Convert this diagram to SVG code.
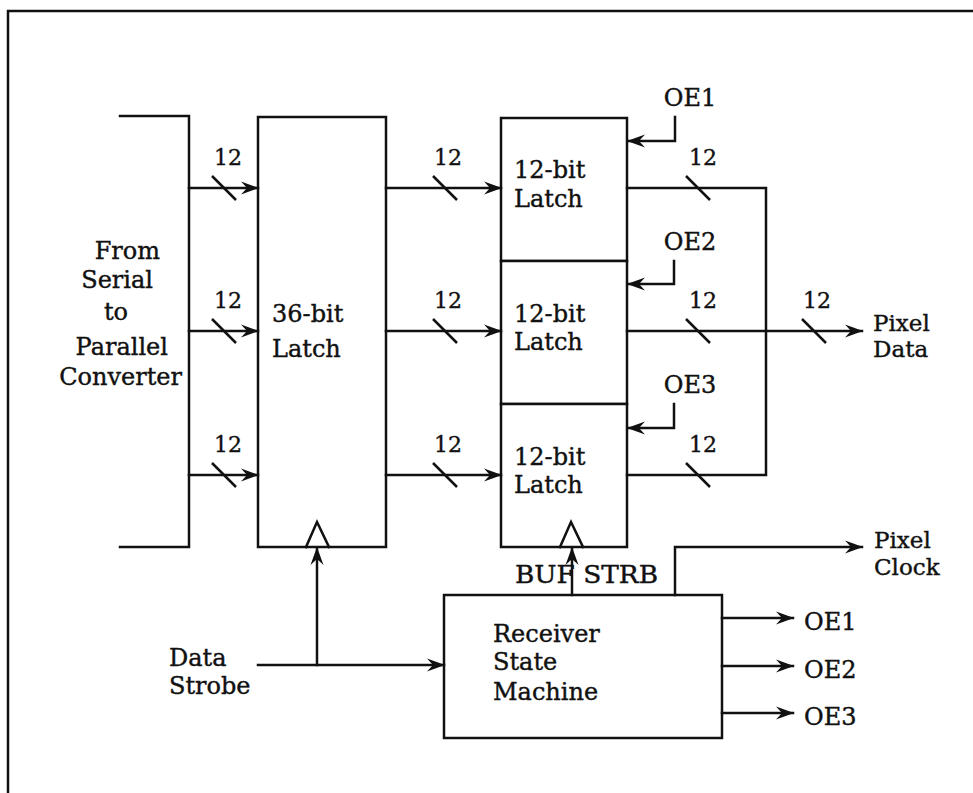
<svg xmlns="http://www.w3.org/2000/svg" width="973" height="793" viewBox="0 0 973 793">
<style>
.ln{fill:none;stroke:#111;stroke-width:2.5;stroke-linecap:square}
.bx{fill:#fff;stroke:#111;stroke-width:2.5}
.sl{stroke:#111;stroke-width:2.5}
text{font-family:"DejaVu Serif","Liberation Serif",serif;font-size:24px;fill:#111;stroke:#111;stroke-width:0.4}
.n{font-size:22px;text-anchor:middle}
.s{font-size:23px}
</style>
<defs>
<marker id="arr" viewBox="0 0 18 14" refX="17" refY="7" markerWidth="18" markerHeight="14" markerUnits="userSpaceOnUse" orient="auto">
<path d="M0,0.5 L18,7 L0,13.5 L6,7 Z" fill="#111"/>
</marker>
</defs>
<rect width="973" height="793" fill="#fff"/>
<path class="ln" d="M8,800 V11 H985"/>

<g id="source">
<path class="ln" d="M120,116 H189 V547 H120"/>
<text x="160" y="259" text-anchor="end">From</text>
<text x="153" y="288" text-anchor="end">Serial</text>
<text x="128" y="320" text-anchor="end">to</text>
<text x="168" y="355" text-anchor="end">Parallel</text>
<text x="182" y="385" text-anchor="end">Converter</text>
</g>

<g id="latch36">
<rect class="bx" x="258" y="117" width="128" height="430"/>
<path class="ln" d="M306,547 L317,522 L329,547" stroke-linecap="butt"/>
<text x="272" y="322">36-bit</text>
<text x="272" y="357">Latch</text>
</g>

<g id="latch12a">
<rect class="bx" x="501" y="118" width="126" height="143"/>
<text x="514" y="178">12-bit</text>
<text x="514" y="207">Latch</text>
</g>
<g id="latch12b">
<rect class="bx" x="501" y="261" width="126" height="143"/>
<text x="514" y="322">12-bit</text>
<text x="514" y="350">Latch</text>
</g>
<g id="latch12c">
<rect class="bx" x="501" y="404" width="126" height="143"/>
<path class="ln" d="M560,547 L571,522 L583,547" stroke-linecap="butt"/>
<text x="514" y="465">12-bit</text>
<text x="514" y="493">Latch</text>
</g>

<g id="rsm">
<rect class="bx" x="444" y="595" width="278" height="143"/>
<text x="493" y="642">Receiver</text>
<text x="493" y="670">State</text>
<text x="493" y="700">Machine</text>
</g>

<g id="labels">
<text x="690" y="106" text-anchor="middle">OE1</text>
<text x="690" y="250" text-anchor="middle">OE2</text>
<text x="690" y="393" text-anchor="middle">OE3</text>
<text class="s" x="873" y="331">Pixel</text>
<text class="s" x="873" y="357">Data</text>
<text x="169" y="666">Data</text>
<text x="169" y="694">Strobe</text>
<text x="515" y="583" textLength="143" lengthAdjust="spacingAndGlyphs">BUF STRB</text>
<text class="s" x="874" y="548">Pixel</text>
<text class="s" x="874" y="575">Clock</text>
<text x="804" y="630">OE1</text>
<text x="804" y="678">OE2</text>
<text x="804" y="725">OE3</text>
<text class="n" x="228" y="165">12</text>
<text class="n" x="228" y="308">12</text>
<text class="n" x="228" y="452">12</text>
<text class="n" x="448" y="165">12</text>
<text class="n" x="448" y="308">12</text>
<text class="n" x="448" y="452">12</text>
<text class="n" x="703" y="165">12</text>
<text class="n" x="703" y="308">12</text>
<text class="n" x="703" y="452">12</text>
<text class="n" x="817" y="308">12</text>
</g>

<g id="connectors">
<path class="ln" d="M189,188 H258" marker-end="url(#arr)"/>
<path class="ln" d="M189,331 H258" marker-end="url(#arr)"/>
<path class="ln" d="M189,475 H258" marker-end="url(#arr)"/>
<path class="ln" d="M386,188 H501" marker-end="url(#arr)"/>
<path class="ln" d="M386,331 H501" marker-end="url(#arr)"/>
<path class="ln" d="M386,475 H501" marker-end="url(#arr)"/>
<path class="ln" d="M627,188 H766 V475 H627"/>
<path class="ln" d="M627,331 H862" marker-end="url(#arr)"/>
<path class="ln" d="M675,117 V141 H628" marker-end="url(#arr)"/>
<path class="ln" d="M674,261 V284 H628" marker-end="url(#arr)"/>
<path class="ln" d="M674,404 V428 H628" marker-end="url(#arr)"/>
<path class="ln" d="M258,665 H444" marker-end="url(#arr)"/>
<path class="ln" d="M317,665 V548" marker-end="url(#arr)"/>
<path class="ln" d="M572,595 V548" marker-end="url(#arr)"/>
<path class="ln" d="M675,595 V547 H862" marker-end="url(#arr)"/>
<path class="ln" d="M722,618 H793" marker-end="url(#arr)"/>
<path class="ln" d="M722,666 H793" marker-end="url(#arr)"/>
<path class="ln" d="M722,713 H793" marker-end="url(#arr)"/>
<g class="sl">
<line x1="212" y1="176" x2="236" y2="200"/>
<line x1="212" y1="319" x2="236" y2="343"/>
<line x1="212" y1="463" x2="236" y2="487"/>
<line x1="433" y1="176" x2="457" y2="200"/>
<line x1="433" y1="319" x2="457" y2="343"/>
<line x1="433" y1="463" x2="457" y2="487"/>
<line x1="686" y1="176" x2="710" y2="200"/>
<line x1="686" y1="319" x2="710" y2="343"/>
<line x1="686" y1="463" x2="710" y2="487"/>
<line x1="802" y1="319" x2="826" y2="343"/>
</g>
</g>
</svg>
